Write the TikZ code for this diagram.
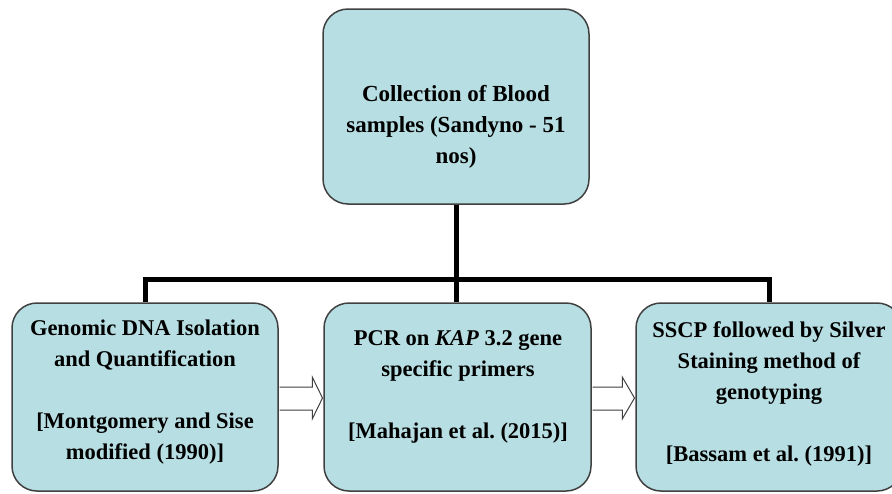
\documentclass[tikz,border=0pt]{standalone}
\usepackage{fontspec}
\setmainfont{Liberation Serif}
\usetikzlibrary{calc}
\definecolor{boxfill}{HTML}{B7DEE2}
\definecolor{boxline}{HTML}{404040}

\begin{document}
\begin{tikzpicture}[x=1pt,y=-1pt,
  box/.style={draw=boxline, line width=1.5pt, fill=boxfill, rounded corners=25pt,
    inner sep=0pt, minimum width=266pt},
  txt/.style={anchor=north, align=center, inner sep=0pt,
    font=\bfseries\frenchspacing\fontsize{22.5}{31}\selectfont},
  bus/.style={line width=5pt},
  hollow/.style={draw=boxline, line width=1pt, fill=white}]
\useasboundingbox (0,0) rectangle (892,493);

% boxes
\node[box, minimum height=195pt] (blood) at (456,106.5) {};
\node[box, minimum height=188pt] (dna) at (145,397) {};
\node[box, minimum height=188pt, minimum width=267pt] (pcr) at (457.5,397) {};
\node[box, minimum height=188pt] (sscp) at (769,397) {};

% texts
\node[txt, font=\bfseries\frenchspacing\fontsize{23}{31}\selectfont] (bloodtxt) at (456,85.5)
  {Collection of Blood\\samples (Sandyno - 51\\nos)};
\node[txt] (dnatxt) at (145,320)
  {Genomic DNA Isolation\\and Quantification\\[31pt]{[Montgomery and Sise}\\modified (1990)]};
\node[txt] (pcrtxt) at (458,330)
  {PCR on \textit{KAP} 3.2 gene\\specific primers\\[31pt]{[Mahajan et al. (2015)]}};
\node[txt] (sscptxt) at (769,321)
  {SSCP followed by Silver\\Staining method of\\genotyping\\[31pt]{[Bassam et al. (1991)]}};

% connectors
\coordinate (fork) at (457,279);
\draw[bus] (blood.south) -- (blood.south |- pcr.north);
\draw[bus] (dna.north) |- (fork) -| (sscp.north);

% hollow arrows
\draw[hollow] ($(dna.east)+(0.75,-10)$) -- ($(pcr.west)+(-11,-10)$) -- ($(pcr.west)+(-11,-20)$)
  -- ($(pcr.west)+(-0.75,1)$) -- ($(pcr.west)+(-11,22)$) -- ($(pcr.west)+(-11,13)$) -- ($(dna.east)+(0.75,13)$);
\draw[hollow] ($(pcr.east)+(0.75,-10)$) -- ($(sscp.west)+(-13,-10)$) -- ($(sscp.west)+(-13,-20)$)
  -- ($(sscp.west)+(-0.75,1)$) -- ($(sscp.west)+(-13,22)$) -- ($(sscp.west)+(-13,13)$) -- ($(pcr.east)+(0.75,13)$);
\end{tikzpicture}
\end{document}
